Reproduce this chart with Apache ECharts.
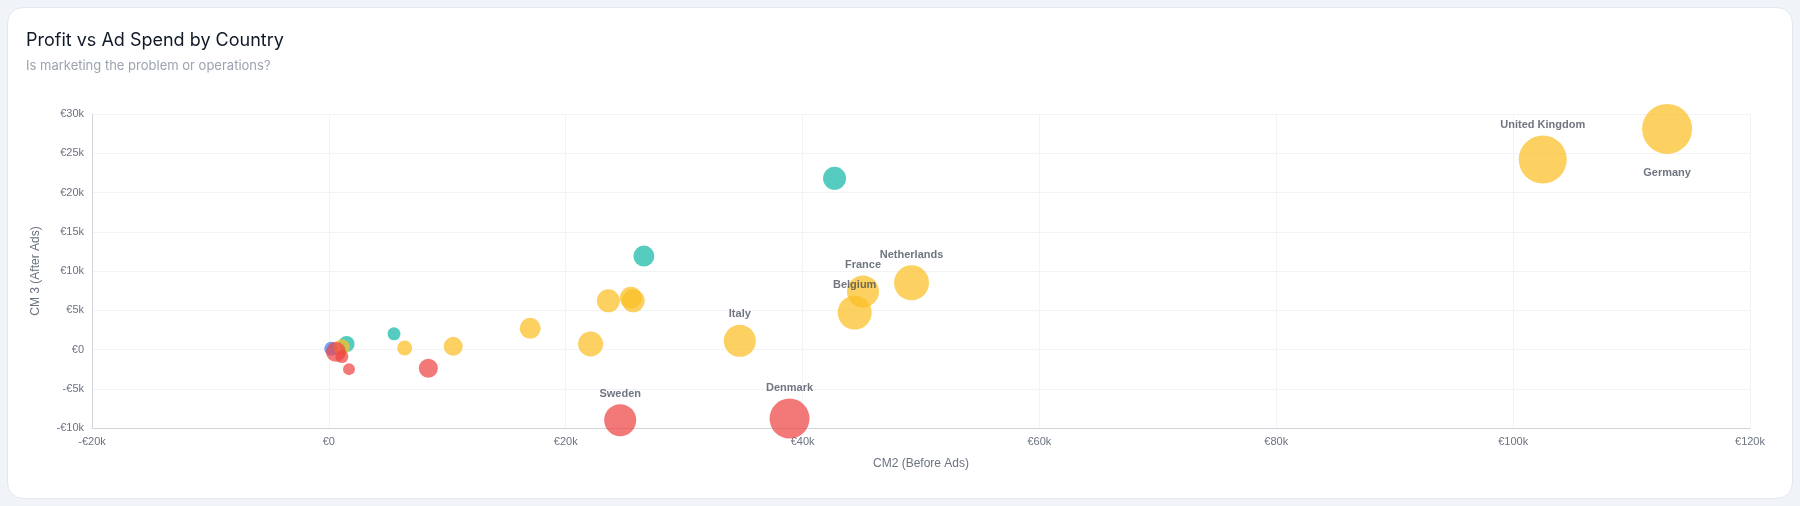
<!DOCTYPE html>
<html><head><meta charset="utf-8">
<script src="https://cdn.jsdelivr.net/npm/echarts@6/dist/echarts.min.js"></script>
<style>
html,body{margin:0;padding:0;background:#f0f3f7;width:1800px;height:506px;overflow:hidden;font-family:Inter,sans-serif}
#card{position:absolute;left:7px;top:7px;width:1786px;height:492px;background:#fff;border:1px solid #e2e8f0;border-radius:16px;box-sizing:border-box}
#c{position:absolute;left:0;top:0;width:1800px;height:506px}
</style></head><body>
<div id="card"></div><div id="c"></div>
<script>
// [CM2, CM3, bubble diameter, label]
const greenPts = [[42.7e3,21.8e3,23,''],[26.6e3,11.9e3,21,''],[5.5e3,2.0e3,13,''],[1.5e3,0.7e3,16,'']];
const yellowPts = [[113e3,28.1e3,50,'Germany'],[102.5e3,24.2e3,48,'United Kingdom'],[49.2e3,8.5e3,35,'Netherlands'],[45.1e3,7.4e3,32,'France'],[44.4e3,4.7e3,34,'Belgium'],[34.7e3,1.1e3,32,'Italy'],[23.6e3,6.2e3,23,''],[25.7e3,6.2e3,23,''],[25.5e3,6.6e3,22,''],[22.1e3,0.7e3,25,''],[17.0e3,2.7e3,21,''],[10.5e3,0.4e3,19,''],[6.4e3,0.2e3,15,''],[1.1e3,0.3e3,16,'']];
const redPts = [[38.9e3,-8.8e3,40,'Denmark'],[24.6e3,-9.0e3,32,'Sweden'],[8.4e3,-2.4e3,19,''],[1.7e3,-2.5e3,12,''],[0.6e3,-0.3e3,20,''],[1.1e3,-0.9e3,13,'']];
const bluePts = [[0.2e3,0.1e3,14,'']];
const xTicks = [-20000,120000,20000];
const yTicks = [-10000,30000,5000];

const fmt = v => (v<0?'-':'')+'€'+(Math.abs(v)>=1000?Math.abs(v)/1000+'k':Math.abs(v));
function ser(data,color){
  return {type:'scatter',data:data,symbolSize:d=>d[2],
    itemStyle:{color:color,opacity:0.72},
    label:{show:true,formatter:p=>p.value[3],position:'top',color:'#374151',fontSize:11,fontWeight:'bold',distance:5}};
}
const chart = echarts.init(document.getElementById('c'));
const s = [ser(bluePts,'#3b82f6'),ser(greenPts,'#14b8a6'),ser(yellowPts,'#fbbf24'),ser(redPts,'#ef4444')];
s[2].data = yellowPts.map(d=>d[3]==='Germany'?{value:d,label:{position:'bottom',distance:14}}:d);
chart.setOption({
  animation:false,
  title:{text:'Profit vs Ad Spend by Country',subtext:'Is marketing the problem or operations?',left:21,top:27,
    textStyle:{fontSize:18,fontWeight:'normal',color:'#111827',fontFamily:'Inter'},
    subtextStyle:{fontSize:13,color:'#9ca3af',fontFamily:'Inter'},itemGap:10},
  grid:{left:92,right:50,top:114,bottom:78},
  xAxis:{type:'value',min:xTicks[0],max:xTicks[1],interval:xTicks[2],name:'CM2 (Before Ads)',nameLocation:'middle',nameGap:30,
    nameTextStyle:{color:'#6b7280',fontSize:12},
    axisLabel:{formatter:fmt,color:'#6b7280',fontSize:11},axisLine:{onZero:false,lineStyle:{color:'#d1d5db'}},axisTick:{show:false},
    splitLine:{lineStyle:{color:'#f1f3f6'}}},
  yAxis:{type:'value',min:yTicks[0],max:yTicks[1],interval:yTicks[2],name:'CM 3 (After Ads)',nameLocation:'middle',nameGap:50,
    nameTextStyle:{color:'#6b7280',fontSize:12},
    axisLabel:{formatter:fmt,color:'#6b7280',fontSize:11},axisLine:{show:true,onZero:false,lineStyle:{color:'#d1d5db'}},axisTick:{show:false},
    splitLine:{lineStyle:{color:'#f1f3f6'}}},
  series:s
});
</script></body></html>
